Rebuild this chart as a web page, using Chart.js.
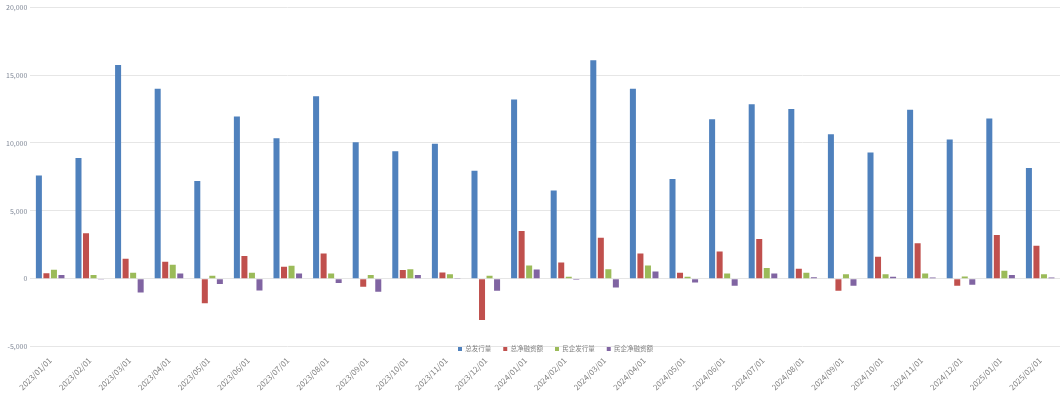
<!DOCTYPE html>
<html>
<head>
<meta charset="utf-8">
<script src="https://cdn.jsdelivr.net/npm/chart.js@4"></script>
<style>
  html, body { margin: 0; padding: 0; background: #fff; }
  #wrap { width: 1062px; height: 394px; }
</style>
</head>
<body>
<div id="wrap"><canvas id="bond-chart"></canvas></div>
<script>
// months on the x axis
const months = ["2023/01/01", "2023/02/01", "2023/03/01", "2023/04/01", "2023/05/01", "2023/06/01",
  "2023/07/01", "2023/08/01", "2023/09/01", "2023/10/01", "2023/11/01", "2023/12/01",
  "2024/01/01", "2024/02/01", "2024/03/01", "2024/04/01", "2024/05/01", "2024/06/01",
  "2024/07/01", "2024/08/01", "2024/09/01", "2024/10/01", "2024/11/01", "2024/12/01",
  "2025/01/01", "2025/02/01"];

const totalIssue = [7600, 8900, 15750, 14000, 7200, 11950, 10350, 13450, 10050, 9400, 9950, 7950,
  13200, 6500, 16100, 14000, 7350, 11750, 12850, 12500, 10650, 9300, 12450, 10250, 11800, 8150];

const totalNet = [400, 3350, 1480, 1250, -1800, 1670, 880, 1870, -590, 640, 470, -3030,
  3520, 1200, 3030, 1870, 440, 2000, 2930, 740, -890, 1620, 2610, -520, 3220, 2430];

const privateIssue = [660, 270, 440, 1030, 220, 440, 960, 390, 270, 710, 340, 220,
  980, 150, 710, 980, 150, 390, 790, 440, 340, 340, 390, 170, 590, 340];

const privateNet = [270, -50, -1010, 390, -390, -860, 390, -320, -960, 270, 50, -890,
  690, -70, -640, 540, -270, -520, 390, 120, -520, 150, 100, -440, 270, 100];

const seriesNames = ["总发行量", "总净融资额", "民企发行量", "民企净融资额"];
const yTicks = { min: -5000, max: 20000, step: 5000 };

const font = "'Noto Sans CJK SC', 'Noto Sans', sans-serif";
const colors = ['#4F81BD', '#C0504D', '#9BBB59', '#8064A2'];

// legend sits over the top of the date labels, a bit right of centre
const legendOverlay = {
  id: 'legendOverlay',
  afterLayout(chart) {
    const lg = chart.legend;
    const pad = lg.options.labels.padding;
    const shift = 24;
    lg.top = chart.chartArea.bottom + 3 - pad - 4;
    lg.bottom = lg.top + 20;
    lg.left += shift;
    lg.right += shift;
  }
};

const bondCanvas = document.getElementById("bond-chart");

const bondData = {
  labels: months,
  datasets: [totalIssue, totalNet, privateIssue, privateNet].map((d, i) => ({
    label: seriesNames[i],
    data: d,
    backgroundColor: colors[i],
    borderWidth: 0,
    categoryPercentage: 0.76,
    barPercentage: 0.8
  }))
};

const bondOptions = {
  responsive: true,
  maintainAspectRatio: false,
  animation: { duration: 0 },
  layout: { padding: { top: 0, right: 2, left: 3, bottom: 0 } },
  scales: {
    x: {
      grid: { display: false },
      border: { display: false },
      ticks: {
        maxRotation: 45,
        minRotation: 45,
        autoSkip: false,
        padding: 1,
        color: '#7f7f7f',
        font: { family: font, size: 8 }
      }
    },
    y: {
      min: yTicks.min,
      max: yTicks.max,
      grid: { color: '#e6e6e6', drawTicks: false },
      border: { display: false },
      ticks: {
        stepSize: yTicks.step,
        padding: 3,
        color: '#7f8796',
        font: { family: font, size: 7 }
      }
    }
  },
  plugins: {
    legend: {
      position: 'bottom',
      maxHeight: 1,
      labels: {
        boxWidth: 4,
        boxHeight: 4,
        padding: 12,
        color: '#7f7f7f',
        font: { family: font, size: 6.5 }
      }
    },
    tooltip: { enabled: false }
  }
};

let bondChart = new Chart(bondCanvas, {
  type: 'bar',
  data: bondData,
  options: bondOptions,
  plugins: [legendOverlay]
});
</script>
</body>
</html>
